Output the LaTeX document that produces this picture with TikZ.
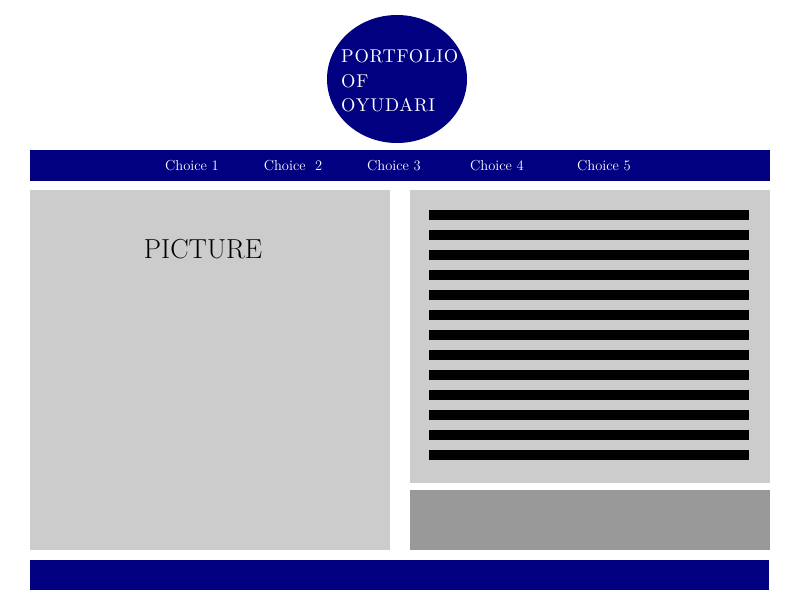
\documentclass[tikz,border=0pt]{standalone}
\usepackage{fontspec}
\newfontfamily\logofont{lmroman10-regular}[Extension=.otf, LetterSpace=4]
\definecolor{navyb}{RGB}{0,0,128}
\definecolor{lgray}{RGB}{204,204,204}
\definecolor{dgray}{RGB}{153,153,153}
\tikzset{
  panel/.style={fill=lgray, draw=none},
  bar/.style={fill=navyb, draw=none},
  txtline/.style={fill=black, draw=none},
  navlabel/.style={text=white, font=\fontsize{14.5}{16}\selectfont, inner sep=0pt},
}
\begin{document}
\begin{tikzpicture}[x=1pt,y=-1pt]
\useasboundingbox[fill=white] (0,0) rectangle (800,600);
% logo
\fill[navyb] (397,79) ellipse [x radius=70, y radius=64];
\node[text=white, anchor=north west, align=left, inner sep=0pt,
      font=\logofont\fontsize{18.5}{24.5}\selectfont] (logo) at (341,49.5) {PORTFOLIO\\OF\\OYUDARI};
% nav bar
\fill[bar] (30,150) rectangle (770,181);
\node[navlabel] (c1) at (192,165.5) {Choice 1};
\node[navlabel] (c2) at (293,165.5) {Choice\ \ 2};
\node[navlabel] (c3) at (394,165.5) {Choice 3};
\node[navlabel] (c4) at (497,165.5) {Choice 4};
\node[navlabel] (c5) at (604,165.5) {Choice 5};
% picture panel
\fill[panel] (30,190) rectangle (390,550);
\node[font=\fontsize{27.5}{30}\selectfont, inner sep=0pt] (pic) at (203,249) {PICTURE};
% text panel
\fill[panel] (410,190) rectangle (770,483);
\foreach \i in {0,...,12} {
  \fill[txtline] (429,{210+20*\i}) rectangle (749,{220+20*\i});
}
% side box
\fill[dgray] (410,490) rectangle (770,550);
% footer
\fill[bar] (30,560) rectangle (769,590);
\end{tikzpicture}
\end{document}
